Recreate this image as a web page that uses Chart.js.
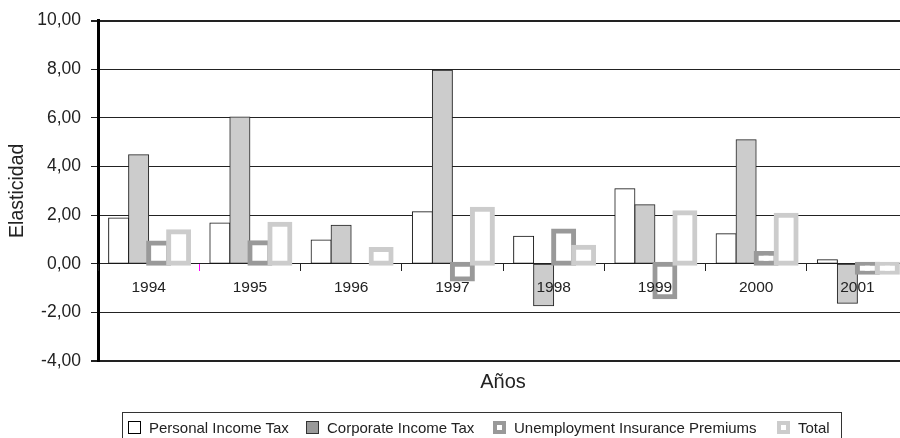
<!DOCTYPE html>
<html>
<head>
<meta charset="utf-8">
<script src="https://cdn.jsdelivr.net/npm/chart.js@4.4.1/dist/chart.umd.min.js"></script>
<style>
  html, body { margin: 0; padding: 0; background: #fff; overflow: hidden; }
  #wrap { position: relative; width: 900px; height: 438px; overflow: hidden; }
  #grafico { position: absolute; left: 0; top: 0; }
  #legend {
    position: absolute; left: 122px; top: 412px; width: 720px; height: 40px;
    border: 1px solid #333; box-sizing: border-box;
    font: 15px "Liberation Sans", Arial, sans-serif; color: #222;
  }
  .icon { position: absolute; top: 8px; width: 13px; height: 13px; box-sizing: border-box; }
  .label { position: absolute; top: 7px; line-height: 15px; white-space: nowrap; }
</style>
</head>
<body>
<div id="wrap">
  <canvas id="grafico" width="908" height="438"></canvas>
  <div id="legend"></div>
</div>
<script>
// Datos (elasticidad por año)
const years = ['1994', '1995', '1996', '1997', '1998', '1999', '2000', '2001'];
const personalIncomeTax = [1.88, 1.67, 0.97, 2.14, 1.13, 3.08, 1.23, 0.16];
const corporateIncomeTax = [4.48, 6.03, 1.58, 7.95, -1.73, 2.42, 5.10, -1.63];
const unemploymentPremiums = [0.85, 0.86, null, -0.63, 1.35, -1.36, 0.42, -0.35];
const totalTax = [1.31, 1.62, 0.58, 2.24, 0.68, 2.10, 1.99, -0.35];
const yMin = -4, yMax = 10, yStep = 2;

const fontFam = '"Liberation Sans", Arial, sans-serif';

// Excel dibuja las series en orden, la última encima
const ordenExcel = {
  id: 'ordenExcel',
  beforeDatasetsDraw(chart) {
    chart.getSortedVisibleDatasetMetas().forEach(m => m.controller.draw());
    return false;
  }
};

const series = [
  { label: 'Personal Income Tax', data: personalIncomeTax, backgroundColor: '#ffffff', borderColor: '#111111', borderWidth: 1, inflateAmount: 0.5 },
  { label: 'Corporate Income Tax', data: corporateIncomeTax, backgroundColor: '#cccccc', borderColor: '#222222', borderWidth: 1, inflateAmount: 0.5 },
  { label: 'Unemployment Insurance Premiums', data: unemploymentPremiums, backgroundColor: '#ffffff', borderColor: '#999999', borderWidth: 5, inflateAmount: 2.5 },
  { label: 'Total', data: totalTax, backgroundColor: '#ffffff', borderColor: '#cccccc', borderWidth: 5, inflateAmount: 2.5 }
];

new Chart(document.getElementById('grafico'), {
  type: 'bar',
  data: { labels: years, datasets: series },
  options: {
    responsive: false,
    animation: false,
    devicePixelRatio: 1,
    layout: { padding: { top: 20, right: 0, bottom: 44, left: 0 } },
    datasets: { bar: { categoryPercentage: 0.79, barPercentage: 1, borderSkipped: false } },
    plugins: {
      legend: { display: false },
      tooltip: { enabled: false },
      title: {
        display: true, text: 'Años', position: 'bottom', fullSize: false,
        color: '#222', font: { family: fontFam, size: 20, weight: 'normal' },
        padding: { top: 9, bottom: 0 }
      }
    },
    scales: {
      x: {
        position: { y: 0 },
        offset: true,
        border: { display: false },
        grid: {
          display: true, offset: true, drawOnChartArea: false, drawTicks: true, tickLength: 7, z: 1,
          color: c => c.index === 1 ? '#ff00ff' : '#222222', lineWidth: 1
        },
        ticks: { z: 1, color: '#222', font: { family: fontFam, size: 15.5 }, padding: 8, maxRotation: 0, autoSkip: false }
      },
      y: {
        min: yMin, max: yMax,
        afterFit: s => { s.width = 98; },
        border: { display: true, color: '#000', width: 3 },
        grid: {
          color: '#222222', tickLength: 7, drawTicks: true,
          lineWidth: c => (c.tick && (c.tick.value === yMax || c.tick.value === yMin)) ? 2 : 1
        },
        ticks: {
          stepSize: yStep, color: '#222', padding: 10,
          font: { family: fontFam, size: 17.5 },
          callback: v => v.toFixed(2).replace('.', ',')
        },
        title: {
          display: true, text: 'Elasticidad', color: '#222',
          font: { family: fontFam, size: 19.5 }, padding: { top: 6, bottom: 0 }
        }
      }
    }
  },
  plugins: [ordenExcel]
});

// Leyenda con recuadro, como en la hoja original
const legendX = [5, 183, 370, 654];
const iconStyle = [
  'background:#fff;border:1px solid #000;',
  'background:#999;border:1px solid #333;',
  'background:#fff;border:4px solid #999;',
  'background:#fff;border:4px solid #ccc;'
];
const legend = document.getElementById('legend');
series.forEach((s, i) => {
  const icon = document.createElement('div');
  icon.className = 'icon';
  icon.style.cssText = iconStyle[i] + 'left:' + legendX[i] + 'px;';
  const label = document.createElement('div');
  label.className = 'label';
  label.style.left = (legendX[i] + 21) + 'px';
  label.textContent = s.label;
  legend.appendChild(icon);
  legend.appendChild(label);
});
</script>
</body>
</html>
